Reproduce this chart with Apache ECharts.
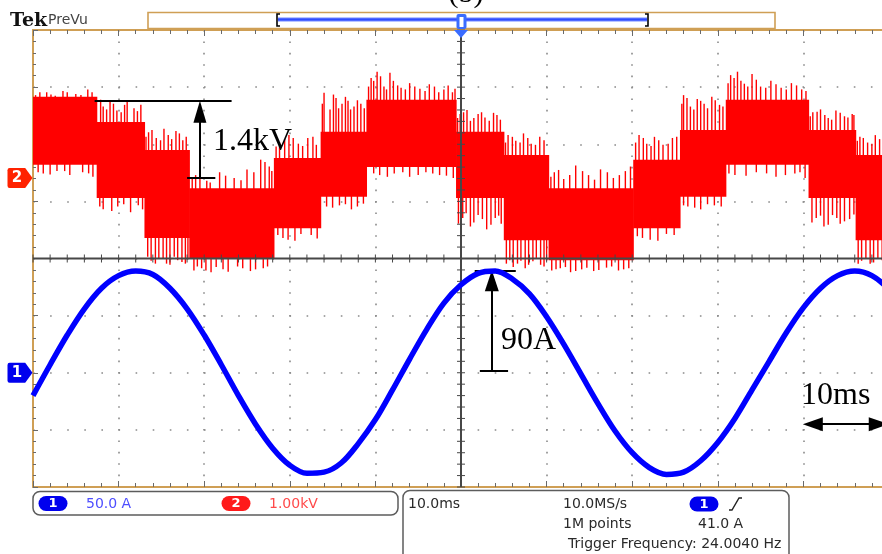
<!DOCTYPE html>
<html>
<head>
<meta charset="utf-8">
<script src="https://cdn.jsdelivr.net/npm/echarts@6/dist/echarts.min.js"></script>
<style>
  html, body { margin: 0; padding: 0; background: #fff; }
  #scope { width: 882px; height: 554px; }
</style>
</head>
<body>
<div id="scope"></div>
<script>
// time base: 10 ms/div, 10 divisions
const timeMs = [0, 2, 4, 6, 8, 10, 12, 14, 16, 18, 20, 22, 24, 26, 28, 30, 32, 34, 36, 38, 40,
  42, 44, 46, 48, 50, 52, 54, 56, 58, 60, 62, 64, 66, 68, 70, 72, 74, 76, 78, 80,
  82, 84, 86, 88, 90, 92, 94, 96, 98, 100];

// channel 1 : current (A), 50 A/div
const ch1Amps = [-20, 7, 33, 56, 74, 85, 89, 86, 74, 56, 33, 7, -20, -45, -66, -81, -88,
  -87, -79, -62, -41, -15, 12, 38, 61, 77, 87, 89, 82, 69, 49, 25, -1, -27, -51, -70,
  -83, -89, -87, -77, -61, -40, -15, 10, 35, 57, 74, 85, 89, 85, 73];

// channel 2 : multilevel voltage (kV), 1 kV/div — each step is a PWM band
const segStart = [0, 7.44, 13.02, 18.26, 28.14, 33.6, 38.95, 49.42, 55.0, 60.23, 70.12, 75.58, 80.93, 90.6, 96.1];
const segEnd   = [7.44, 13.02, 18.26, 28.14, 33.6, 38.95, 49.42, 55.0, 60.23, 70.12, 75.58, 80.93, 90.6, 96.1, 100];
const segLow   = [0.23, -0.35, -1.05, -1.40, -0.88, -0.33, 0.19, -0.35, -1.09, -1.44, -0.88, -0.33, 0.23, -0.35, -1.09];
const segHigh  = [1.42, 0.98, 0.49, -0.18, 0.35, 0.81, 1.37, 0.81, 0.40, -0.18, 0.32, 0.84, 1.37, 0.84, 0.40];

// switching spikes sticking out of the bands: [t ms, from kV, to kV]
const ch2Spikes = [
  [0.8, 1.3, 1.5], [2.1, 1.3, 1.46], [3.5, 1.3, 1.52], [5.0, 1.3, 1.47], [6.4, 1.3, 1.55],
  [0.3, 1.3, 1.45], [1.6, 1.3, 1.5], [2.6, 1.3, 1.44], [4.0, 1.3, 1.5], [5.6, 1.3, 1.45], [6.9, 1.3, 1.5],
  [1.2, 0.3, 0.08], [2.8, 0.3, 0.12], [4.3, 0.3, 0.05], [5.8, 0.3, 0.1], [7.0, 0.3, 0.02],
  [0.6, 0.3, 0.1], [2.0, 0.3, 0.06], [3.7, 0.3, 0.12], [6.5, 0.3, 0.08],
  [7.9, 0.9, 1.37], [8.6, 0.9, 1.2], [9.4, 0.9, 1.3], [10.3, 0.9, 1.15], [11.0, 0.9, 1.33], [11.8, 0.9, 1.22], [12.6, 0.9, 1.28],
  [8.2, 0.9, 1.25], [9.0, 0.9, 1.34], [9.8, 0.9, 1.18], [10.7, 0.9, 1.28], [12.2, 0.9, 1.17],
  [8.2, -0.3, -0.55], [9.9, -0.3, -0.5], [11.4, -0.3, -0.6], [12.3, -0.3, -0.48],
  [7.8, -0.3, -0.5], [9.2, -0.3, -0.58], [10.6, -0.3, -0.46], [12.8, -0.3, -0.55],
  [13.5, 0.4, 0.8], [14.4, 0.4, 0.7], [15.3, 0.4, 0.86], [16.2, 0.4, 0.68], [17.1, 0.4, 0.78], [17.9, 0.4, 0.72],
  [13.2, 0.4, 0.72], [13.9, 0.4, 0.84], [14.9, 0.4, 0.66], [15.8, 0.4, 0.75], [16.7, 0.4, 0.82], [17.5, 0.4, 0.66],
  [13.8, -1.0, -1.45], [14.7, -1.0, -1.4], [15.6, -1.0, -1.5], [16.5, -1.0, -1.38], [17.4, -1.0, -1.47],
  [13.4, -1.0, -1.38], [14.3, -1.0, -1.5], [15.2, -1.0, -1.42], [16.0, -1.0, -1.52], [16.9, -1.0, -1.44], [17.8, -1.0, -1.5], [18.1, -1.0, -1.4],
  [19.0, -0.25, 0.05], [20.3, -0.25, -0.05], [21.8, -0.25, 0.1], [23.5, -0.25, 0.0], [25.0, -0.25, 0.15], [26.6, -0.25, 0.32], [27.6, -0.25, 0.2],
  [18.6, -0.25, -0.02], [19.5, -0.25, 0.08], [20.7, -0.25, -0.08], [22.5, -0.25, 0.04], [24.3, -0.25, -0.04], [25.8, -0.25, 0.1], [27.1, -0.25, 0.28], [27.9, -0.25, 0.12],
  [18.8, -1.35, -1.62], [19.7, -1.35, -1.58], [20.8, -1.35, -1.65], [22.2, -1.35, -1.6], [23.9, -1.35, -1.55], [25.4, -1.35, -1.63], [26.9, -1.35, -1.58],
  [19.2, -1.35, -1.55], [20.2, -1.35, -1.62], [21.4, -1.35, -1.56], [22.8, -1.35, -1.64], [24.5, -1.35, -1.58], [26.0, -1.35, -1.6], [27.4, -1.35, -1.55],
  [28.8, 0.3, 0.62], [29.9, 0.3, 0.75], [31.0, 0.3, 0.6], [32.1, 0.3, 0.7], [33.1, 0.3, 0.58],
  [28.4, 0.3, 0.55], [29.4, 0.3, 0.68], [30.4, 0.3, 0.7], [31.5, 0.3, 0.56], [32.7, 0.3, 0.72],
  [29.2, -0.8, -1.05], [30.6, -0.8, -1.1], [32.5, -0.8, -1.0],
  [28.6, -0.8, -1.0], [29.8, -0.8, -1.08], [31.3, -0.8, -0.98], [33.2, -0.8, -1.06],
  [34.0, 0.75, 1.49], [34.7, 0.75, 1.2], [35.4, 0.75, 1.4], [36.1, 0.75, 1.3], [36.8, 0.75, 1.35], [37.5, 0.75, 1.25], [38.3, 0.75, 1.3],
  [33.8, 0.75, 1.3], [35.1, 0.75, 1.46], [35.7, 0.75, 1.22], [36.5, 0.75, 1.42], [37.1, 0.75, 1.2], [37.9, 0.75, 1.36], [38.7, 0.75, 1.22],
  [34.3, -0.3, -0.5], [35.8, -0.3, -0.48], [37.2, -0.3, -0.55], [38.6, -0.3, -0.45],
  [35.0, -0.3, -0.52], [36.5, -0.3, -0.46], [37.9, -0.3, -0.5],
  [39.5, 1.3, 1.75], [40.2, 1.3, 1.86], [41.0, 1.3, 1.6], [41.7, 1.3, 1.84], [42.6, 1.3, 1.62], [43.5, 1.3, 1.55],
  [44.6, 1.3, 1.6], [45.8, 1.3, 1.52], [46.9, 1.3, 1.6], [48.0, 1.3, 1.55], [49.0, 1.3, 1.5],
  [39.2, 1.3, 1.6], [39.8, 1.3, 1.7], [40.6, 1.3, 1.78], [41.3, 1.3, 1.55], [42.1, 1.3, 1.7], [43.0, 1.3, 1.58],
  [44.0, 1.3, 1.66], [45.2, 1.3, 1.56], [46.3, 1.3, 1.64], [47.4, 1.3, 1.5], [48.5, 1.3, 1.62], [49.3, 1.3, 1.56],
  [40.5, 0.25, 0.05], [42.2, 0.25, 0.08], [44.0, 0.25, 0.02], [45.9, 0.25, 0.1], [47.5, 0.25, 0.05], [49.1, 0.25, 0.0],
  [39.8, 0.25, 0.08], [41.4, 0.25, 0.02], [43.2, 0.25, 0.1], [45.0, 0.25, 0.05], [46.7, 0.25, 0.08], [48.3, 0.25, 0.04],
  [49.9, 0.75, 1.12], [50.7, 0.75, 1.19], [51.5, 0.75, 1.05], [52.4, 0.75, 1.15], [53.3, 0.75, 1.0], [54.2, 0.75, 1.1],
  [49.6, 0.75, 1.05], [50.3, 0.75, 1.15], [51.1, 0.75, 1.0], [52.0, 0.75, 1.12], [52.8, 0.75, 1.06], [53.8, 0.75, 1.14], [54.6, 0.75, 1.02],
  [50.2, -0.3, -0.7], [51.1, -0.3, -0.85], [52.0, -0.3, -0.65], [53.0, -0.3, -0.9], [54.0, -0.3, -0.7], [54.7, -0.3, -0.8],
  [49.7, -0.3, -0.8], [50.6, -0.3, -0.62], [51.5, -0.3, -0.78], [52.5, -0.3, -0.72], [53.5, -0.3, -0.82], [54.4, -0.3, -0.66],
  [55.5, 0.35, 0.75], [56.4, 0.35, 0.65], [57.3, 0.35, 0.78], [58.2, 0.35, 0.6], [59.2, 0.35, 0.72],
  [55.2, 0.35, 0.62], [56.0, 0.35, 0.72], [56.9, 0.35, 0.62], [57.8, 0.35, 0.7], [58.7, 0.35, 0.58], [59.7, 0.35, 0.66],
  [55.3, -1.0, -1.5], [56.1, -1.0, -1.56], [57.0, -1.0, -1.45], [57.9, -1.0, -1.52], [58.8, -1.0, -1.4], [59.7, -1.0, -1.55],
  [55.7, -1.0, -1.44], [56.6, -1.0, -1.5], [57.5, -1.0, -1.58], [58.4, -1.0, -1.46], [59.3, -1.0, -1.52], [60.0, -1.0, -1.45],
  [60.9, -0.25, 0.1], [62.0, -0.25, -0.02], [63.4, -0.25, 0.22], [64.9, -0.25, 0.05], [66.3, -0.25, 0.15], [67.8, -0.25, 0.0], [69.2, -0.25, 0.12],
  [60.5, -0.25, 0.02], [61.4, -0.25, 0.14], [62.7, -0.25, 0.05], [64.2, -0.25, 0.12], [65.6, -0.25, -0.03], [67.1, -0.25, 0.1], [68.5, -0.25, 0.05], [69.8, -0.25, 0.2],
  [60.6, -1.4, -1.62], [61.6, -1.4, -1.58], [62.8, -1.4, -1.65], [64.1, -1.4, -1.6], [65.5, -1.4, -1.63], [67.0, -1.4, -1.57], [68.4, -1.4, -1.62], [69.6, -1.4, -1.58],
  [61.1, -1.4, -1.6], [62.2, -1.4, -1.56], [63.4, -1.4, -1.63], [64.7, -1.4, -1.57], [66.1, -1.4, -1.61], [67.6, -1.4, -1.55], [69.0, -1.4, -1.6],
  [70.8, 0.28, 0.75], [71.7, 0.28, 0.6], [72.6, 0.28, 0.72], [73.6, 0.28, 0.58], [74.7, 0.28, 0.7],
  [70.4, 0.28, 0.62], [71.3, 0.28, 0.7], [72.2, 0.28, 0.56], [73.1, 0.28, 0.66], [74.2, 0.28, 0.6], [75.2, 0.28, 0.72],
  [71.2, -0.8, -1.05], [73.0, -0.8, -1.1], [74.9, -0.8, -1.0],
  [70.6, -0.8, -1.02], [72.1, -0.8, -1.08], [74.0, -0.8, -0.98],
  [76.0, 0.78, 1.45], [76.8, 0.78, 1.25], [77.6, 0.78, 1.38], [78.4, 0.78, 1.3], [79.3, 0.78, 1.42], [80.2, 0.78, 1.28],
  [75.8, 0.78, 1.3], [76.4, 0.78, 1.4], [77.2, 0.78, 1.2], [78.0, 0.78, 1.35], [78.8, 0.78, 1.22], [79.7, 0.78, 1.36], [80.6, 0.78, 1.25],
  [76.5, -0.3, -0.5], [78.0, -0.3, -0.55], [79.6, -0.3, -0.48],
  [76.0, -0.3, -0.48], [77.3, -0.3, -0.52], [78.8, -0.3, -0.46], [80.4, -0.3, -0.5],
  [81.5, 1.3, 1.8], [82.3, 1.3, 1.86], [83.1, 1.3, 1.65], [84.0, 1.3, 1.82], [85.0, 1.3, 1.6], [86.2, 1.3, 1.7],
  [87.4, 1.3, 1.58], [88.6, 1.3, 1.66], [89.8, 1.3, 1.55],
  [81.2, 1.3, 1.66], [81.9, 1.3, 1.75], [82.7, 1.3, 1.7], [83.5, 1.3, 1.6], [84.5, 1.3, 1.72], [85.6, 1.3, 1.58],
  [86.8, 1.3, 1.64], [88.0, 1.3, 1.55], [89.2, 1.3, 1.62], [90.3, 1.3, 1.52],
  [82.0, 0.28, 0.05], [84.5, 0.28, 0.1], [86.8, 0.28, 0.02], [89.0, 0.28, 0.08], [90.2, 0.28, 0.0],
  [81.3, 0.28, 0.08], [83.3, 0.28, 0.04], [85.7, 0.28, 0.08], [87.9, 0.28, 0.05], [89.6, 0.28, 0.1],
  [91.1, 0.78, 1.15], [92.0, 0.78, 1.2], [92.9, 0.78, 1.05], [93.8, 0.78, 1.18], [94.8, 0.78, 1.08], [95.7, 0.78, 1.12],
  [90.8, 0.78, 1.08], [91.6, 0.78, 1.16], [92.5, 0.78, 1.1], [93.3, 0.78, 1.02], [94.3, 0.78, 1.14], [95.2, 0.78, 1.06], [95.9, 0.78, 1.1],
  [91.5, -0.3, -0.7], [92.4, -0.3, -0.85], [93.4, -0.3, -0.65], [94.3, -0.3, -0.8], [95.4, -0.3, -0.72],
  [91.0, -0.3, -0.78], [92.0, -0.3, -0.66], [92.9, -0.3, -0.82], [93.9, -0.3, -0.7], [94.8, -0.3, -0.76], [95.9, -0.3, -0.64],
  [96.6, 0.35, 0.72], [97.5, 0.35, 0.62], [98.4, 0.35, 0.75], [99.3, 0.35, 0.66],
  [96.3, 0.35, 0.65], [97.0, 0.35, 0.7], [98.0, 0.35, 0.6], [98.9, 0.35, 0.68], [99.7, 0.35, 0.7],
  [96.8, -1.0, -1.45], [97.8, -1.0, -1.5], [98.7, -1.0, -1.42], [99.6, -1.0, -1.48],
  [96.4, -1.0, -1.5], [97.3, -1.0, -1.4], [98.2, -1.0, -1.48], [99.2, -1.0, -1.44]
];

const TAN = '#cf9f55';
const TICK = '#6a6a6a';
const DOTS = '#8a8a8a';
const BLUE = '#0000ff';
const RED = '#ff0000';

const chart = echarts.init(document.getElementById('scope'), null, { renderer: 'canvas' });

const bandData = segStart.map((s, i) => [s, segEnd[i], segLow[i], segHigh[i]]);
const ch1Data = timeMs.map((t, i) => [t, ch1Amps[i]]);

function renderBand(params, api) {
  const a = api.coord([api.value(0), api.value(3)]);
  const b = api.coord([api.value(1), api.value(2)]);
  return {
    type: 'rect',
    shape: { x: a[0], y: a[1], width: b[0] - a[0] + 0.6, height: b[1] - a[1] },
    style: { fill: RED }
  };
}

function renderSpike(params, api) {
  const a = api.coord([api.value(0), api.value(1)]);
  const b = api.coord([api.value(0), api.value(2)]);
  return {
    type: 'line',
    shape: { x1: a[0], y1: a[1], x2: b[0], y2: b[1] },
    style: { stroke: RED, lineWidth: 1.4 }
  };
}

// centre cross of the graticule, with its small ticks
function renderCross(params, api) {
  const c = api.coord([50, 0]);
  const top = api.coord([50, 4]);
  const bot = api.coord([50, -4]);
  const left = api.coord([0, 0]);
  const right = api.coord([100, 0]);
  const st = { stroke: '#474747', lineWidth: 2 };
  const kids = [
    { type: 'line', shape: { x1: c[0], y1: top[1], x2: c[0], y2: bot[1] }, style: st },
    { type: 'line', shape: { x1: left[0], y1: c[1], x2: right[0], y2: c[1] }, style: st }
  ];
  for (let i = 0; i <= 50; i++) {
    const p = api.coord([i * 2, 0]);
    kids.push({ type: 'line', shape: { x1: p[0], y1: c[1] - 4, x2: p[0], y2: c[1] + 4 }, style: { stroke: '#474747', lineWidth: 1 } });
  }
  for (let i = -20; i <= 20; i++) {
    const p = api.coord([50, i / 5]);
    kids.push({ type: 'line', shape: { x1: c[0] - 4, y1: p[1], x2: c[0] + 4, y2: p[1] }, style: { stroke: '#474747', lineWidth: 1 } });
  }
  return { type: 'group', children: kids };
}

const chanMarker = 'path://M2,0 L17,0 L24,9 L17,18 L2,18 Q0,18 0,16 L0,2 Q0,0 2,0 Z';
const blackLine = { color: '#000', width: 2, type: 'solid' };

function txt(text, x, y, size, color) {
  return {
    type: 'text', x: x, y: y, z: 100,
    style: { text: text, font: size + 'px "DejaVu Sans"', fill: color, align: 'left', verticalAlign: 'middle' }
  };
}

function pill(x, y, label, color) {
  return [
    { type: 'rect', z: 100, shape: { x: x, y: y, width: 29, height: 15, r: 7.5 }, style: { fill: color } },
    { type: 'text', z: 101, x: x + 14.5, y: y + 8, style: { text: label, font: 'bold 13px "DejaVu Sans"', fill: '#fff', align: 'center', verticalAlign: 'middle' } }
  ];
}

const option = {
  animation: false,
  backgroundColor: '#fff',
  grid: { left: 33, top: 30, width: 856, height: 457, show: false, containLabel: false, outerBoundsMode: 'none' },
  xAxis: [
    {
      type: 'value', min: 0, max: 100, interval: 10, position: 'bottom',
      axisLine: { onZero: false, lineStyle: { color: TAN, width: 2 } },
      axisTick: { inside: true, length: 6, lineStyle: { color: TICK } },
      minorTick: { show: true, splitNumber: 5, length: 4, lineStyle: { color: TICK } },
      axisLabel: { show: false },
      splitLine: { show: true, lineStyle: { color: DOTS, width: 1.6, type: [1.6, 9.8] } }
    },
    {
      type: 'value', min: 0, max: 100, interval: 10, position: 'top',
      axisLine: { onZero: false, lineStyle: { color: TAN, width: 2 } },
      axisTick: { inside: true, length: 6, lineStyle: { color: TICK } },
      minorTick: { show: true, splitNumber: 5, length: 4, lineStyle: { color: TICK } },
      axisLabel: { show: false },
      splitLine: { show: false }
    }
  ],
  yAxis: [
    {
      type: 'value', min: -4, max: 4, interval: 1, position: 'left',
      axisLine: { onZero: false, lineStyle: { color: TAN, width: 2 } },
      axisTick: { inside: true, length: 5, lineStyle: { color: TICK } },
      minorTick: { show: true, splitNumber: 5, length: 3, lineStyle: { color: TICK } },
      axisLabel: { show: false },
      splitLine: { show: true, lineStyle: { color: DOTS, width: 1.6, type: [1.6, 15.5] } }
    },
    { type: 'value', min: -100, max: 300, show: false, axisLine: { onZero: false } },
    { type: 'value', min: -5.41, max: 2.59, show: false, axisLine: { onZero: false } }
  ],
  series: [
    {
      name: 'ch2 band', type: 'custom', xAxisIndex: 0, yAxisIndex: 2, z: 3, clip: true,
      renderItem: renderBand, data: bandData, silent: true
    },
    {
      name: 'ch2 spikes', type: 'custom', xAxisIndex: 0, yAxisIndex: 2, z: 3, clip: true,
      renderItem: renderSpike, data: ch2Spikes, silent: true
    },
    {
      name: 'cross', type: 'custom', xAxisIndex: 0, yAxisIndex: 0, z: 4,
      renderItem: renderCross, data: [[50, 0]], silent: true
    },
    {
      name: 'ch1', type: 'line', xAxisIndex: 0, yAxisIndex: 1, z: 5,
      data: ch1Data, smooth: 0.35, showSymbol: false, silent: true,
      lineStyle: { color: BLUE, width: 5.5 },
      markPoint: {
        silent: true,
        data: [{ coord: [0, 0] }],
        symbol: chanMarker, symbolSize: [25, 20], symbolOffset: [-13, 0],
        itemStyle: { color: '#0000ee' },
        label: { show: true, formatter: '1', color: '#fff', fontWeight: 'bold', fontSize: 15, fontFamily: 'DejaVu Sans', offset: [-3, 0] }
      },
      markLine: {
        silent: true, symbol: 'none', lineStyle: blackLine, label: { show: false },
        data: [
          [{ coord: [51.6, 89.3] }, { coord: [56.4, 89.3] }],
          [{ coord: [52.2, 1.5] }, { coord: [55.5, 1.5] }],
          [{ coord: [53.6, 1.5] }, { coord: [53.6, 80.6], symbol: 'triangle', symbolSize: [14, 21] }]
        ]
      }
    },
    {
      name: 'ch2 ref', type: 'line', xAxisIndex: 0, yAxisIndex: 2, z: 6, data: [], silent: true,
      markPoint: {
        silent: true,
        data: [{ coord: [0, 0] }],
        symbol: chanMarker, symbolSize: [25, 20], symbolOffset: [-13, 0],
        itemStyle: { color: '#ff2200' },
        label: { show: true, formatter: '2', color: '#fff', fontWeight: 'bold', fontSize: 15, fontFamily: 'DejaVu Sans', offset: [-3, 0] }
      },
      markLine: {
        silent: true, symbol: 'none', lineStyle: blackLine, label: { show: false },
        data: [
          [{ coord: [7.2, 1.35] }, { coord: [23.2, 1.35] }],
          [{ coord: [18.0, 0] }, { coord: [21.3, 0] }],
          [{ coord: [19.5, 0] }, { coord: [19.5, 1.16], symbol: 'triangle', symbolSize: [13, 22] }]
        ]
      }
    },
    {
      name: 'time ref', type: 'line', xAxisIndex: 0, yAxisIndex: 0, z: 6, data: [], silent: true,
      markLine: {
        silent: true, lineStyle: blackLine, label: { show: false },
        symbol: ['triangle', 'triangle'], symbolSize: [14, 20],
        data: [[{ coord: [91.1, -2.9] }, { coord: [98.8, -2.9] }]]
      }
    }
  ],
  graphic: {
    elements: [
      // title fragment cut by the top edge
      { type: 'text', x: 466, y: 9, z: 100, style: { text: '(b)', font: '30px "Liberation Serif"', fill: '#000', align: 'center', verticalAlign: 'bottom' } },
      // Tek PreVu
      { type: 'text', x: 10, y: 21, z: 100, style: { text: 'Tek', font: 'bold 19px "DejaVu Serif"', fill: '#111', align: 'left', verticalAlign: 'middle' } },
      txt('PreVu', 48, 20, 14, '#444'),
      // record view bar
      { type: 'rect', z: 100, shape: { x: 148, y: 12.5, width: 627, height: 16 }, style: { fill: '#fff', stroke: TAN, lineWidth: 1.6 } },
      { type: 'line', z: 101, shape: { x1: 278, y1: 19.5, x2: 647, y2: 19.5 }, style: { stroke: '#b8c4ff', lineWidth: 5 } },
      { type: 'line', z: 102, shape: { x1: 278, y1: 19.5, x2: 647, y2: 19.5 }, style: { stroke: '#2f4dff', lineWidth: 2.5 } },
      { type: 'polyline', z: 103, shape: { points: [[280, 14], [277, 14], [277, 26], [280, 26]] }, style: { stroke: '#000', lineWidth: 1.6, fill: null } },
      { type: 'polyline', z: 103, shape: { points: [[645, 14], [648, 14], [648, 26], [645, 26]] }, style: { stroke: '#000', lineWidth: 1.6, fill: null } },
      { type: 'rect', z: 104, shape: { x: 456.5, y: 14, width: 10, height: 15, r: 2 }, style: { fill: '#3a6cff' } },
      { type: 'rect', z: 105, shape: { x: 459.5, y: 17, width: 4, height: 10 }, style: { fill: '#fff' } },
      { type: 'polygon', z: 104, shape: { points: [[454, 30], [468, 30], [461, 38]] }, style: { fill: '#3a6cff' } },
      // annotations
      { type: 'text', x: 213, y: 142, z: 100, style: { text: '1.4kV', font: '32px "Liberation Serif"', fill: '#000', align: 'left', verticalAlign: 'middle' } },
      { type: 'text', x: 501, y: 341, z: 100, style: { text: '90A', font: '32px "Liberation Serif"', fill: '#000', align: 'left', verticalAlign: 'middle' } },
      { type: 'text', x: 801, y: 396, z: 100, style: { text: '10ms', font: '32px "Liberation Serif"', fill: '#000', align: 'left', verticalAlign: 'middle' } },
      // channel readout box
      { type: 'rect', z: 99, shape: { x: 33, y: 491.5, width: 365, height: 23.5, r: 7 }, style: { fill: '#fff', stroke: '#5c5c5c', lineWidth: 1.5 } },
      ...pill(38.5, 496, '1', '#0000ee'),
      txt('50.0 A', 86, 504, 14, '#4d4dff'),
      ...pill(221.5, 496, '2', '#ff1a1a'),
      txt('1.00kV', 269, 504, 14, '#ff4a4a'),
      // timebase / trigger box
      { type: 'rect', z: 99, shape: { x: 403, y: 490.5, width: 386, height: 70, r: 7 }, style: { fill: '#fff', stroke: '#5c5c5c', lineWidth: 1.5 } },
      txt('10.0ms', 408, 504, 14, '#2a2a2a'),
      txt('10.0MS/s', 563, 504, 14, '#2a2a2a'),
      ...pill(689.5, 496.5, '1', '#0000ee'),
      { type: 'polyline', z: 100, shape: { points: [[729, 510], [732, 510], [739, 498], [742, 498]] }, style: { stroke: '#222', lineWidth: 1.4, fill: null } },
      txt('1M points', 563, 524, 14, '#2a2a2a'),
      txt('41.0 A', 698, 524, 14, '#2a2a2a'),
      txt('Trigger Frequency: 24.0040 Hz', 568, 544, 14, '#2a2a2a')
    ]
  }
};

chart.setOption(option);
</script>
</body>
</html>
